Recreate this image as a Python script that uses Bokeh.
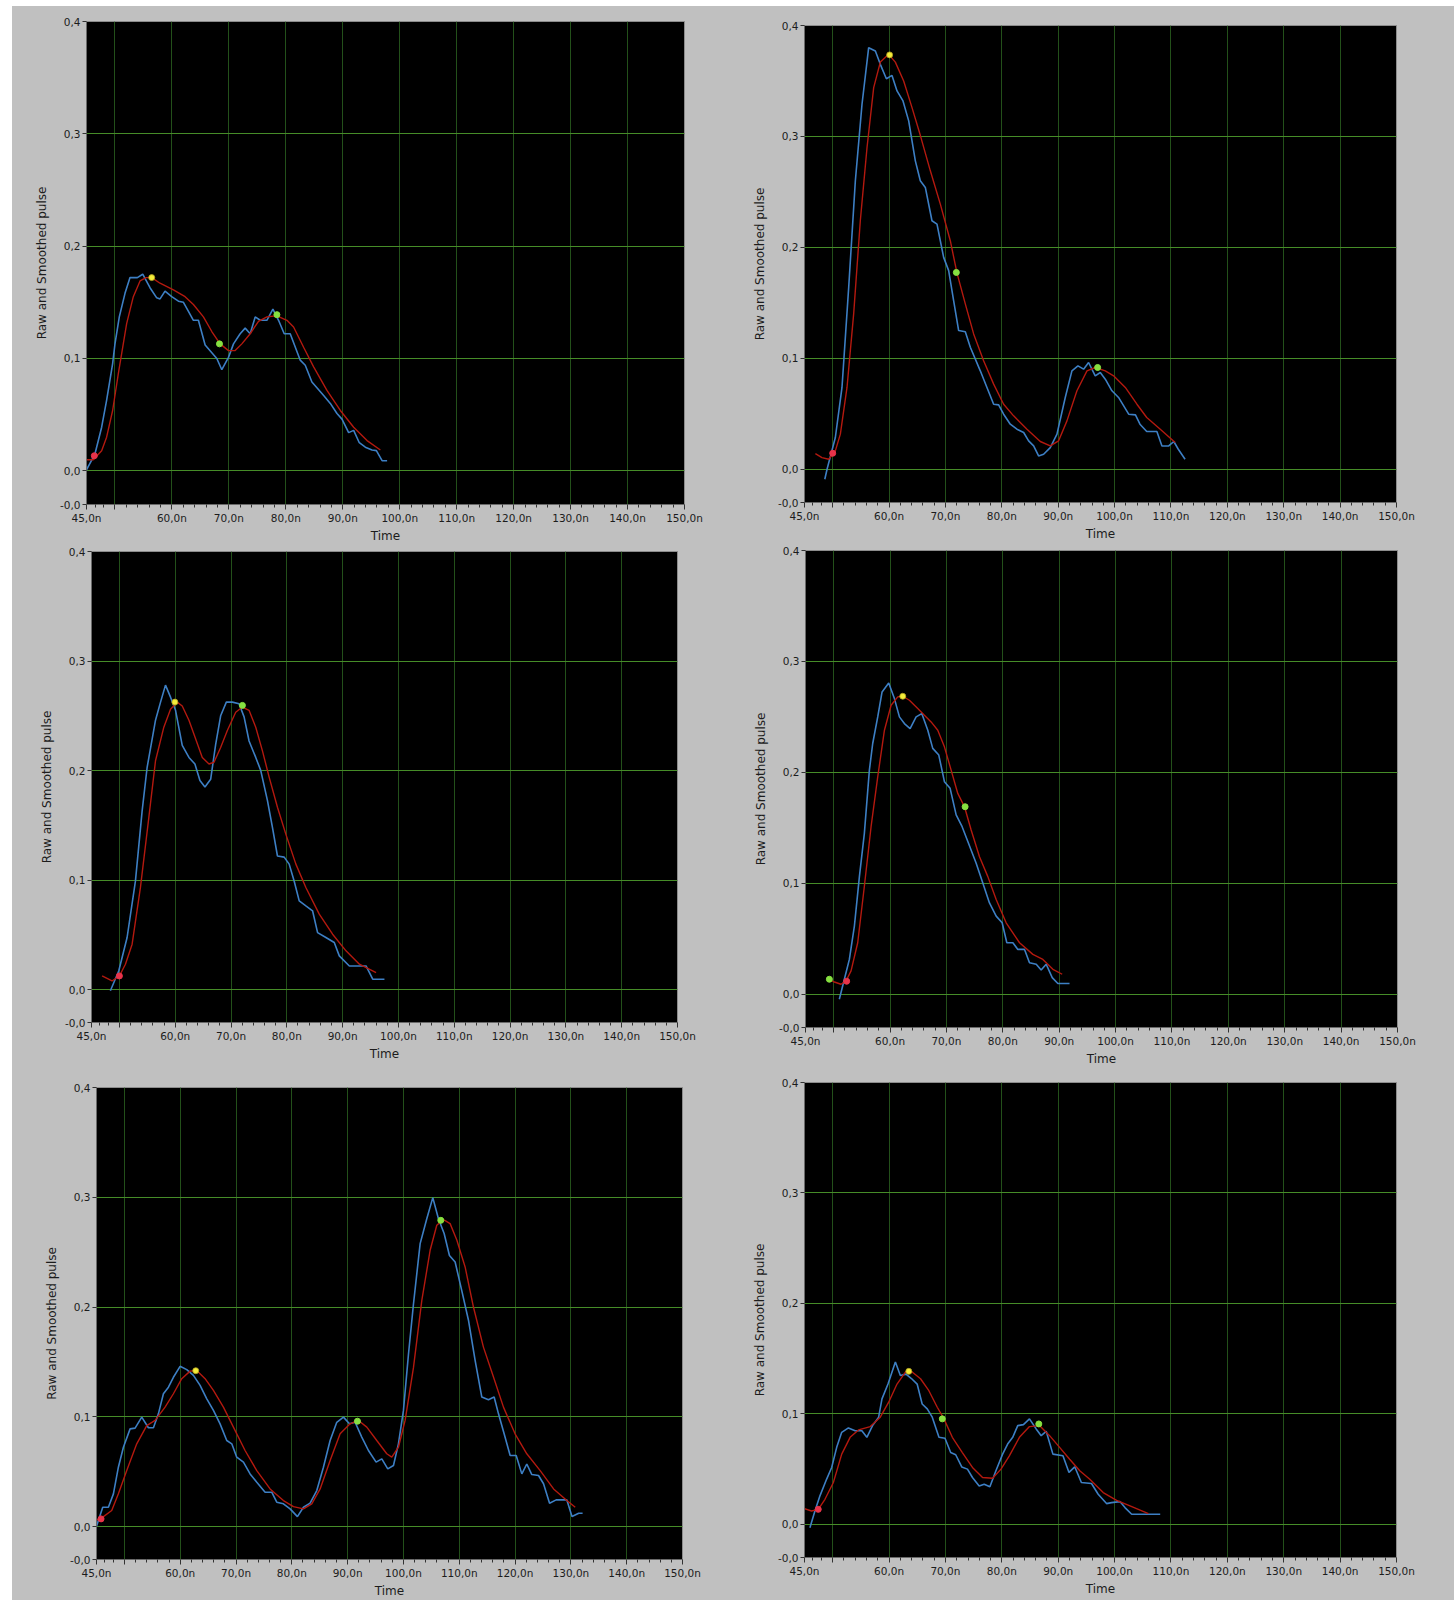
from bokeh.plotting import figure
from bokeh.layouts import row, column
from bokeh.models import Range1d, FixedTicker, Spacer
from bokeh.embed import file_html
from bokeh.resources import INLINE

# ---------------- data (time in ns, amplitude) ----------------
# Panel 1 (top-left)
p1_raw_t = [44.9, 46.48, 47.66, 48.53, 49.59, 50.0, 50.76, 51.76, 52.64, 53.93, 54.87, 56.15, 57.33, 57.91, 58.79, 59.96, 61.14, 62.02, 62.9, 63.77, 64.65, 65.83, 67.88, 68.76, 69.93, 70.81, 71.98, 72.86, 73.74, 74.62, 75.5, 76.67, 77.73, 78.72, 79.72, 80.77, 82.53, 83.41, 84.58, 86.64, 87.81, 88.98, 89.86, 91.03, 91.91, 92.9, 93.96, 95.13, 95.9, 96.9, 97.78]
p1_raw_v = [0.000, 0.0149, 0.0388, 0.0627, 0.0955, 0.113, 0.137, 0.158, 0.172, 0.172, 0.175, 0.163, 0.154, 0.153, 0.160, 0.155, 0.151, 0.150, 0.142, 0.134, 0.134, 0.112, 0.100, 0.090, 0.101, 0.113, 0.122, 0.127, 0.122, 0.137, 0.134, 0.134, 0.144, 0.134, 0.122, 0.122, 0.0985, 0.094, 0.079, 0.067, 0.060, 0.051, 0.046, 0.034, 0.036, 0.025, 0.021, 0.0185, 0.018, 0.009, 0.009]
p1_smooth_t = [44.9, 46.19, 47.66, 48.53, 49.59, 50.59, 52.05, 53.22, 54.4, 55.45, 56.45, 57.91, 60.26, 62.31, 63.77, 65.53, 67.0, 68.46, 69.93, 71.1, 72.27, 73.74, 75.2, 76.67, 78.43, 80.19, 81.36, 83.12, 84.88, 87.22, 89.57, 91.91, 94.26, 96.6]
p1_smooth_v = [0.0099, 0.0099, 0.0179, 0.0299, 0.0537, 0.0866, 0.131, 0.155, 0.169, 0.172, 0.172, 0.167, 0.161, 0.155, 0.148, 0.137, 0.124, 0.113, 0.107, 0.107, 0.113, 0.122, 0.133, 0.137, 0.138, 0.134, 0.128, 0.110, 0.0925, 0.0716, 0.0537, 0.0388, 0.0269, 0.0185]
p1_start = (46.37, 0.0134)
p1_peak = (56.45, 0.172)
p1_marks = ([68.35, 78.43], [0.113, 0.139])

# Panel 2 (top-right)
p2_raw_t = [48.6, 49.0, 50.47, 51.65, 52.84, 54.02, 55.2, 56.38, 57.57, 58.45, 59.52, 60.52, 61.41, 62.47, 63.48, 64.66, 65.54, 66.43, 67.61, 68.5, 69.68, 70.57, 71.45, 72.34, 73.52, 74.41, 76.18, 77.36, 78.55, 79.43, 80.32, 81.5, 82.68, 83.87, 84.75, 85.64, 86.52, 87.41, 88.59, 89.78, 91.25, 92.43, 93.5, 94.5, 95.39, 96.57, 97.46, 98.35, 99.53, 100.7, 102.5, 103.7, 104.5, 105.7, 107.5, 108.4, 109.6, 110.5, 111.3, 112.5]
p2_raw_v = [-0.009, 0.0, 0.0286, 0.0737, 0.164, 0.260, 0.329, 0.380, 0.377, 0.365, 0.352, 0.355, 0.341, 0.332, 0.314, 0.278, 0.260, 0.254, 0.224, 0.221, 0.191, 0.179, 0.152, 0.125, 0.124, 0.110, 0.0887, 0.0737, 0.0586, 0.058, 0.0496, 0.0406, 0.0361, 0.0331, 0.0256, 0.021, 0.012, 0.0135, 0.0195, 0.0316, 0.0647, 0.0887, 0.0932, 0.0902, 0.0962, 0.0842, 0.0872, 0.0812, 0.0707, 0.0647, 0.0496, 0.049, 0.0406, 0.034, 0.034, 0.021, 0.021, 0.025, 0.018, 0.009]
p2_smooth_t = [46.93, 48.1, 49.3, 50.47, 51.36, 52.54, 53.72, 54.9, 56.09, 57.27, 58.45, 59.93, 61.11, 62.59, 64.07, 65.54, 67.32, 69.09, 70.86, 72.04, 73.52, 75.0, 76.77, 78.55, 80.32, 82.09, 84.46, 86.82, 88.59, 90.07, 91.55, 93.32, 95.1, 96.57, 98.35, 99.82, 101.9, 103.96, 105.7, 108.1, 110.75]
p2_smooth_v = [0.0141, 0.0105, 0.009, 0.0165, 0.0316, 0.0737, 0.140, 0.224, 0.290, 0.344, 0.367, 0.374, 0.367, 0.350, 0.326, 0.301, 0.269, 0.239, 0.206, 0.177, 0.149, 0.122, 0.0977, 0.0767, 0.0586, 0.0481, 0.0361, 0.025, 0.021, 0.0256, 0.0436, 0.0707, 0.0887, 0.0917, 0.0887, 0.0842, 0.0737, 0.0586, 0.0466, 0.0361, 0.024]
p2_start = (50.0, 0.0144)
p2_peak = (60.1, 0.3735)
p2_marks = ([71.93, 96.99], [0.1774, 0.0917])

# Panel 3 (middle-left)
p3_raw_t = [48.38, 49.88, 51.38, 52.87, 54.07, 54.97, 56.47, 57.37, 58.26, 59.16, 60.06, 61.26, 62.46, 63.53, 64.43, 65.33, 66.35, 67.25, 68.14, 69.16, 70.24, 71.44, 72.34, 73.23, 74.43, 75.33, 76.53, 77.43, 78.32, 79.52, 80.42, 81.32, 82.22, 83.41, 84.61, 85.51, 87.0, 88.5, 89.4, 91.2, 93.0, 94.19, 95.39, 97.49]
p3_raw_v = [-0.001, 0.017, 0.0476, 0.099, 0.163, 0.203, 0.246, 0.2625, 0.278, 0.267, 0.255, 0.223, 0.212, 0.206, 0.191, 0.185, 0.192, 0.224, 0.250, 0.2625, 0.2625, 0.261, 0.249, 0.227, 0.212, 0.200, 0.1726, 0.148, 0.122, 0.121, 0.1146, 0.099, 0.081, 0.0765, 0.072, 0.052, 0.0476, 0.043, 0.0308, 0.0216, 0.0216, 0.0216, 0.0095, 0.0095]
p3_smooth_t = [46.9, 48.68, 50.0, 51.08, 52.28, 53.77, 55.27, 56.47, 57.96, 59.16, 60.36, 61.26, 62.46, 63.65, 64.85, 66.05, 66.95, 68.14, 69.34, 70.84, 72.04, 73.23, 74.43, 75.63, 76.83, 78.32, 79.82, 81.62, 83.41, 85.81, 88.2, 90.6, 93.0, 95.99]
p3_smooth_v = [0.0125, 0.0079, 0.0125, 0.0232, 0.0415, 0.0933, 0.157, 0.209, 0.2396, 0.256, 0.2625, 0.259, 0.246, 0.229, 0.212, 0.206, 0.2076, 0.221, 0.2366, 0.2533, 0.258, 0.255, 0.2396, 0.218, 0.194, 0.1665, 0.142, 0.1146, 0.0933, 0.0689, 0.0506, 0.0354, 0.0232, 0.0155]
p3_start = (50.0, 0.0125)
p3_peak = (59.94, 0.2625)
p3_marks = ([72.04], [0.2595])

# Panel 4 (middle-right)
p4_raw_t = [51.0, 51.89, 52.78, 53.67, 54.56, 55.44, 56.33, 56.92, 57.81, 58.58, 59.76, 60.77, 61.66, 62.54, 63.55, 64.62, 65.62, 66.69, 67.57, 68.64, 69.64, 70.65, 71.72, 72.78, 73.79, 75.27, 76.45, 77.63, 78.82, 79.88, 80.71, 81.78, 82.66, 83.85, 84.73, 85.92, 86.8, 87.69, 88.76, 89.76, 91.83]
p4_raw_v = [-0.0045, 0.0135, 0.0314, 0.0614, 0.106, 0.145, 0.202, 0.226, 0.250, 0.2725, 0.2805, 0.2665, 0.250, 0.244, 0.2395, 0.250, 0.253, 0.238, 0.2216, 0.2156, 0.1916, 0.1856, 0.1617, 0.151, 0.1377, 0.118, 0.1003, 0.0823, 0.0704, 0.0644, 0.0464, 0.0464, 0.0404, 0.0404, 0.0284, 0.027, 0.0219, 0.027, 0.015, 0.0096, 0.0096]
p4_smooth_t = [49.23, 50.12, 51.3, 52.19, 53.08, 54.26, 55.44, 56.63, 57.81, 59.0, 60.18, 61.36, 62.25, 63.43, 64.91, 66.09, 67.28, 68.46, 69.64, 70.83, 72.01, 73.2, 74.38, 75.86, 77.34, 78.82, 80.59, 82.96, 85.33, 87.1, 88.88, 90.53]
p4_smooth_v = [0.0135, 0.011, 0.009, 0.012, 0.021, 0.0464, 0.0973, 0.151, 0.196, 0.238, 0.2605, 0.268, 0.2686, 0.265, 0.2575, 0.2515, 0.2455, 0.238, 0.223, 0.202, 0.181, 0.169, 0.148, 0.124, 0.106, 0.0853, 0.0644, 0.0464, 0.0359, 0.0314, 0.0225, 0.018]
p4_start = (52.3, 0.0117)
p4_peak = (62.25, 0.2686)
p4_marks = ([49.23, 73.31], [0.0135, 0.169])

# Panel 5 (bottom-left)
p5_raw_t = [44.74, 45.34, 46.12, 47.13, 48.03, 48.92, 49.82, 51.02, 51.91, 53.11, 54.3, 55.2, 56.09, 56.99, 57.89, 58.78, 59.98, 61.17, 62.37, 63.56, 64.76, 65.95, 67.14, 68.34, 69.24, 70.13, 71.33, 72.52, 73.72, 75.21, 76.4, 77.3, 78.49, 79.69, 81.0, 82.08, 83.27, 84.47, 85.66, 86.86, 88.05, 89.25, 90.32, 91.34, 92.53, 93.73, 95.1, 96.12, 97.19, 98.21, 99.1, 100.0, 100.9, 101.8, 102.99, 104.18, 105.26, 106.27, 107.29, 108.24, 109.26, 110.45, 111.65, 112.84, 114.04, 115.23, 116.25, 117.03, 118.04, 119.12, 120.2, 121.21, 122.1, 123.0, 124.2, 125.1, 126.18, 127.36, 129.28, 130.2, 131.4, 132.1]
p5_raw_v = [-0.0036, 0.0055, 0.0176, 0.0176, 0.0298, 0.0541, 0.0723, 0.089, 0.0897, 0.0997, 0.09, 0.09, 0.1027, 0.121, 0.127, 0.136, 0.146, 0.143, 0.1377, 0.1286, 0.1164, 0.1058, 0.0936, 0.0784, 0.0754, 0.0632, 0.0587, 0.048, 0.0404, 0.0313, 0.0313, 0.0222, 0.0207, 0.0161, 0.0091, 0.0176, 0.0213, 0.0328, 0.0541, 0.0784, 0.095, 0.0997, 0.0936, 0.095, 0.0815, 0.0693, 0.0587, 0.0617, 0.0526, 0.0556, 0.0754, 0.1058, 0.157, 0.203, 0.2578, 0.2805, 0.2997, 0.2805, 0.267, 0.247, 0.241, 0.215, 0.188, 0.1514, 0.118, 0.1155, 0.118, 0.1027, 0.0845, 0.0647, 0.0647, 0.048, 0.057, 0.0474, 0.0465, 0.039, 0.0213, 0.0243, 0.0243, 0.0091, 0.0122, 0.0122]
p5_smooth_t = [44.74, 45.94, 47.73, 48.92, 50.42, 52.21, 54.0, 55.5, 57.29, 58.78, 60.27, 61.77, 62.96, 64.46, 65.95, 67.74, 69.53, 71.62, 73.72, 76.1, 78.49, 80.29, 82.08, 83.57, 85.07, 86.86, 88.65, 90.44, 91.94, 93.43, 95.22, 97.01, 97.91, 99.1, 100.3, 101.8, 103.29, 104.78, 105.97, 107.17, 108.36, 109.56, 111.05, 112.54, 114.33, 116.13, 117.92, 120.0, 122.1, 124.5, 126.9, 129.28, 130.78]
p5_smooth_v = [0.0055, 0.0079, 0.0146, 0.0298, 0.051, 0.0754, 0.092, 0.0967, 0.1088, 0.121, 0.1347, 0.1416, 0.1422, 0.1347, 0.124, 0.1088, 0.0906, 0.0693, 0.051, 0.0343, 0.0237, 0.0182, 0.0161, 0.0207, 0.0343, 0.0602, 0.0845, 0.0936, 0.0967, 0.0906, 0.0784, 0.0663, 0.0632, 0.0723, 0.0967, 0.145, 0.206, 0.2517, 0.2745, 0.2796, 0.276, 0.261, 0.2365, 0.200, 0.1635, 0.1362, 0.1088, 0.0845, 0.0663, 0.051, 0.0343, 0.0237, 0.0176]
p5_start = (45.82, 0.007)
p5_peak = (62.78, 0.142)
p5_marks = ([91.76, 106.69], [0.096, 0.279])

# Panel 6 (bottom-right)
p6_raw_t = [45.96, 46.85, 47.74, 48.93, 49.82, 50.71, 51.6, 52.79, 53.98, 55.17, 56.06, 57.07, 58.15, 58.74, 59.81, 61.12, 62.0, 63.0, 63.97, 64.98, 65.87, 66.77, 67.66, 68.85, 69.92, 70.93, 71.82, 72.89, 73.9, 74.79, 75.98, 76.87, 77.88, 78.95, 80.14, 81.03, 81.93, 82.82, 83.83, 84.9, 86.09, 86.98, 87.87, 89.06, 90.84, 91.91, 92.93, 94.11, 95.9, 97.09, 98.57, 99.46, 100.95, 101.84, 103.03, 108.09]
p6_raw_v = [-0.003, 0.0121, 0.0258, 0.041, 0.0515, 0.0697, 0.0833, 0.0873, 0.0848, 0.0848, 0.0788, 0.0894, 0.097, 0.1136, 0.127, 0.147, 0.1348, 0.136, 0.132, 0.127, 0.109, 0.1045, 0.097, 0.0788, 0.078, 0.065, 0.063, 0.052, 0.050, 0.0424, 0.0348, 0.0364, 0.034, 0.0485, 0.0636, 0.0727, 0.0788, 0.0894, 0.0903, 0.0955, 0.0864, 0.0803, 0.0842, 0.0636, 0.0621, 0.047, 0.0521, 0.0379, 0.037, 0.0273, 0.0188, 0.0197, 0.0206, 0.0152, 0.0091, 0.0091]
p6_smooth_t = [44.77, 46.25, 47.44, 48.63, 50.12, 51.6, 53.09, 54.58, 56.66, 58.44, 59.93, 61.41, 62.9, 64.09, 65.58, 67.06, 68.55, 69.74, 71.22, 73.0, 74.79, 76.58, 78.36, 79.85, 81.33, 83.12, 84.9, 86.68, 88.47, 90.25, 92.03, 93.82, 95.6, 97.98, 100.36, 102.73, 106.0]
p6_smooth_v = [0.0145, 0.0121, 0.0136, 0.0227, 0.0379, 0.0636, 0.0788, 0.0855, 0.0885, 0.097, 0.1106, 0.127, 0.1379, 0.1379, 0.1318, 0.121, 0.106, 0.0955, 0.0788, 0.065, 0.0515, 0.0424, 0.0418, 0.050, 0.062, 0.0788, 0.0885, 0.0894, 0.0803, 0.0697, 0.059, 0.0485, 0.0409, 0.0288, 0.0218, 0.0167, 0.0097]
p6_start = (47.44, 0.0136)
p6_peak = (63.5, 0.1385)
p6_marks = ([69.44, 86.56], [0.0955, 0.0909])

# ---------------- axes ----------------
x_ticks = [45, 50, 60, 70, 80, 90, 100, 110, 120, 130, 140, 150]
x_tick_labels = ["45,0n", "", "60,0n", "70,0n", "80,0n", "90,0n", "100,0n", "110,0n", "120,0n", "130,0n", "140,0n", "150,0n"]
x_minor = [46.5, 48] + [v + d for v in range(50, 150, 10) for d in (2, 4, 6, 8)]
x_grid = [50, 60, 70, 80, 90, 100, 110, 120, 130, 140]
y_ticks = [-0.03, 0.0, 0.1, 0.2, 0.3, 0.4]
y_tick_labels = ["-0,0", "0,0", "0,1", "0,2", "0,3", "0,4"]
y_grid = [0.0, 0.1, 0.2, 0.3]

GRAY = "#c0c0c0"
FONT = "DejaVu Sans"
LEFT_BORDER = 60


def make_panel(raw_t, raw_v, sm_t, sm_v, start, peak, marks,
               w, h, right, top, bottom):
    p = figure(width=w, height=h,
               min_border_left=LEFT_BORDER, min_border_right=right,
               min_border_top=top, min_border_bottom=bottom,
               x_range=Range1d(45, 150), y_range=Range1d(-0.03, 0.4),
               output_backend="svg", toolbar_location=None, tools="")
    p.background_fill_color = "black"
    p.border_fill_color = GRAY
    p.outline_line_color = "#8c8c8c"
    p.outline_line_width = 1

    p.xaxis.ticker = FixedTicker(ticks=x_ticks, minor_ticks=x_minor)
    p.xaxis.major_label_overrides = dict(zip(x_ticks, x_tick_labels))
    p.yaxis.ticker = FixedTicker(ticks=y_ticks, minor_ticks=[])
    p.yaxis.major_label_overrides = dict(zip(y_ticks, y_tick_labels))
    for ax in (p.xaxis, p.yaxis):
        ax.axis_line_color = "#6a6a6a"
        ax.major_tick_line_color = "#333333"
        ax.minor_tick_line_color = "#333333"
        ax.major_tick_in = 0
        ax.minor_tick_in = 0
        ax.major_label_text_font = FONT
        ax.major_label_text_font_size = "10.5px"
        ax.major_label_text_color = "#1c1c1c"
        ax.axis_label_text_font = FONT
        ax.axis_label_text_font_size = "12px"
        ax.axis_label_text_font_style = "normal"
        ax.axis_label_text_color = "#1c1c1c"
    p.xaxis.major_tick_out = 5
    p.xaxis.minor_tick_out = 3
    p.xaxis.major_label_standoff = 2
    p.xaxis.axis_label = "Time"
    p.xaxis.axis_label_standoff = 2
    p.yaxis.major_tick_out = 4
    p.yaxis.major_label_standoff = 2
    p.yaxis.axis_label = "Raw and Smoothed pulse"
    p.yaxis.axis_label_standoff = 8

    p.xgrid.ticker = FixedTicker(ticks=x_grid)
    p.ygrid.ticker = FixedTicker(ticks=y_grid)
    p.xgrid.grid_line_color = "#23501a"
    p.ygrid.grid_line_color = "#468c28"
    p.xgrid.grid_line_width = 1
    p.ygrid.grid_line_width = 1

    p.line(raw_t, raw_v, line_color="#3d7fc4", line_width=1.6)
    p.line(sm_t, sm_v, line_color="#b3190f", line_width=1.4)
    p.scatter([start[0]], [start[1]], size=6, fill_color="#e8334a", line_color="#e8334a")
    p.scatter([peak[0]], [peak[1]], size=6, fill_color="#f4ec3a", line_color="#b0a020", line_width=0.8)
    p.scatter(marks[0], marks[1], size=6, fill_color="#86e040", line_color="#86e040")
    return p


def placed(fig, dx, total_w):
    return row(Spacer(width=dx, height=fig.height), fig, width=total_w, height=fig.height,
               spacing=0, styles={"background-color": GRAY})


# left column (x from 12 to 740)
f1 = make_panel(p1_raw_t, p1_raw_v, p1_smooth_t, p1_smooth_v, p1_start, p1_peak, p1_marks,
                714, 539, 56, 15, 41)
f3 = make_panel(p3_raw_t, p3_raw_v, p3_smooth_t, p3_smooth_v, p3_start, p3_peak, p3_marks,
                709, 525, 63, 6, 48)
f5 = make_panel(p5_raw_t, p5_raw_v, p5_smooth_t, p5_smooth_v, p5_start, p5_peak, p5_marks,
                704, 530, 58, 17, 41)
# right column (x from 740 to 1454)
f2 = make_panel(p2_raw_t, p2_raw_v, p2_smooth_t, p2_smooth_v, p2_start, p2_peak, p2_marks,
                710, 539, 58, 19, 43)
f4 = make_panel(p4_raw_t, p4_raw_v, p4_smooth_t, p4_smooth_v, p4_start, p4_peak, p4_marks,
                711, 523, 59, 5, 40)
f6 = make_panel(p6_raw_t, p6_raw_v, p6_smooth_t, p6_smooth_v, p6_start, p6_peak, p6_marks,
                708, 532, 56, 14, 43)

white_top_l = Spacer(width=728, height=6, styles={"background-color": "white"})
white_top_r = Spacer(width=714, height=6, styles={"background-color": "white"})
left_col = column(white_top_l, placed(f1, 14, 728), placed(f3, 19, 728), placed(f5, 24, 728),
                  spacing=0, styles={"background-color": GRAY})
right_col = column(white_top_r, placed(f2, 4, 714), placed(f4, 5, 714), placed(f6, 4, 714),
                   spacing=0, styles={"background-color": GRAY})
page = row(Spacer(width=12, height=1600, styles={"background-color": "white"}),
           left_col, right_col, spacing=0, styles={"background-color": GRAY})

open("out.html", "w").write(file_html(page, INLINE))
